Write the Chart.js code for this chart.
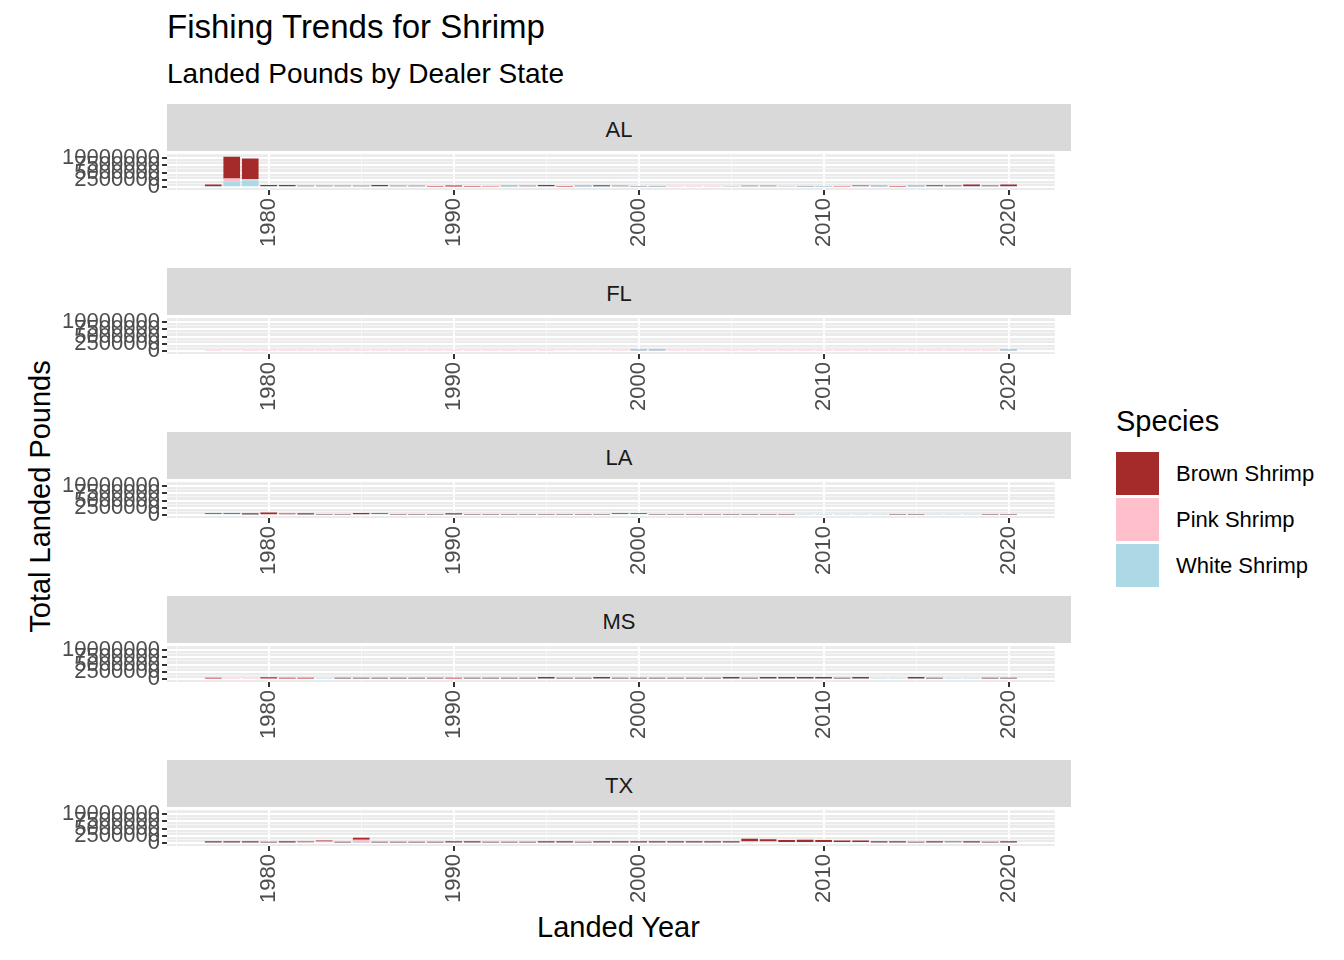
<!DOCTYPE html>
<html>
<head>
<meta charset="utf-8">
<script src="https://cdn.jsdelivr.net/npm/chart.js@4"></script>
<style>
body { margin:0; width:1344px; height:960px; background:#fff; font-family:Arial, "Liberation Sans", sans-serif; position:relative; overflow:hidden; }
.t { position:absolute; color:#000; white-space:nowrap; }
.strip { position:absolute; left:167px; width:904px; height:47px; background:#D9D9D9; color:#1A1A1A; font-size:22px; text-align:center; line-height:52px; }
.panel { position:absolute; left:0; width:1075px; height:117px; }
.key { position:absolute; left:1116px; width:43px; height:43px; }
.klab { position:absolute; left:1176px; font-size:22px; color:#000; }
</style>
</head>
<body>
<div class="t" style="left:167px;top:8px;font-size:33px;">Fishing Trends for Shrimp</div>
<div class="t" style="left:167px;top:58px;font-size:28px;">Landed Pounds by Dealer State</div>
<div class="t" style="left:537px;top:911px;font-size:29px;">Landed Year</div>
<div class="t" style="left:-96px;top:480px;font-size:29px;transform:rotate(-90deg);">Total Landed Pounds</div>
<div class="t" style="left:1116px;top:405px;font-size:29px;">Species</div>
<div class="key" style="top:452px;background:#A52A2A;"></div>
<div class="key" style="top:498px;background:#FFC0CB;"></div>
<div class="key" style="top:544px;background:#ADD8E6;"></div>
<div class="klab" style="top:461px;">Brown Shrimp</div>
<div class="klab" style="top:507px;">Pink Shrimp</div>
<div class="klab" style="top:553px;">White Shrimp</div>
<div id="wrap"></div>
<script>
const years = [];
for (let y = 1977; y <= 2020; y++) years.push(y);
// axis range padded two years each side, like the reference
const axisYears = [1975, 1976, ...years, 2021, 2022];
const states = ['AL', 'FL', 'LA', 'MS', 'TX'];
const speciesNames = ['White Shrimp', 'Pink Shrimp', 'Brown Shrimp'];
const speciesColors = ['#ADD8E6', '#FFC0CB', '#A52A2A'];
const yTicks = [0, 2500000, 5000000, 7500000, 10000000];

// values in millions of pounds, 1977..2020
const alBrown = [0.6,7.4,7.0,0.5,0.5,0.2,0.2,0.2,0.2,0.5,0.2,0.2,0.2,0.4,0.2,0.1,0.2,0.2,0.5,0.2,0.2,0.5,0.2,0.2,0.2,0,0,0,0,0.2,0.2,0,0.2,0,0.2,0.2,0.2,0.2,0.2,0.4,0.3,0.6,0.3,0.6];
const alPink  = [0.1,1.0,0.4,0.1,0.1,0.1,0.1,0.1,0.1,0.1,0.1,0.1,0.2,0.2,0.2,0.2,0.2,0.1,0.1,0.2,0.2,0.1,0.1,0.1,0.1,0.2,0.2,0.2,0.1,0.1,0.1,0.1,0.1,0.2,0.1,0.2,0.2,0.2,0.2,0.1,0.1,0.1,0.1,0.1];
const alWhite = [0.2,2.0,2.4,0.2,0.2,0.2,0.2,0.2,0.2,0.2,0.2,0.2,0,0,0,0,0.1,0.2,0.2,0,0.1,0.1,0.2,0.1,0.1,0,0,0,0.2,0.2,0.2,0.2,0.1,0.1,0,0.2,0.1,0,0.1,0.2,0.2,0.2,0.2,0.2];
const flBrown = [0,0,0,0,0,0,0,0,0,0,0,0,0,0,0,0,0,0,0,0,0,0,0,0.2,0.2,0,0,0,0,0,0,0,0,0,0,0,0,0,0,0,0,0,0,0.2];
const flPink  = [0.2,0.4,0.2,0.2,0.2,0.2,0.2,0.2,0.2,0.2,0.2,0.2,0.2,0.2,0.2,0.2,0.2,0.2,0.2,0.4,0.4,0.4,0.2,0.2,0.2,0.2,0.2,0.2,0.2,0.2,0.2,0.2,0.2,0.2,0.2,0.2,0.2,0.2,0.2,0.2,0.2,0.2,0.2,0.2];
const flWhite = [0,0,0,0,0,0,0,0,0,0,0,0,0,0,0,0,0,0,0,0,0,0,0,0.1,0.1,0,0,0,0,0,0,0,0,0,0,0,0,0,0,0,0,0,0,0.1];
const laBrown = [0.3,0.3,0.5,0.6,0.3,0.5,0.2,0.2,0.5,0.3,0.2,0.2,0.2,0.5,0.2,0.2,0.2,0.2,0.2,0.2,0.2,0.2,0.3,0.3,0.2,0.2,0.2,0.2,0.2,0.2,0.2,0.2,0,0,0,0,0,0.2,0.2,0,0,0,0.2,0.2];
const laPink  = [0,0,0,0,0,0,0,0,0,0,0,0,0,0,0,0,0,0,0,0,0,0,0,0,0,0,0,0,0,0,0,0,0,0,0,0,0,0,0,0,0,0,0,0];
const laWhite = [0.4,0.4,0.2,0.3,0.3,0.2,0.2,0.2,0.3,0.4,0.2,0.2,0.2,0.2,0.2,0.2,0.2,0.2,0.2,0.2,0.2,0.2,0.4,0.4,0.2,0.2,0.2,0.2,0.2,0.2,0.2,0.2,0.2,0.2,0.2,0.2,0.2,0.2,0.2,0.2,0.2,0.2,0.2,0.2];
const msBrown = [0.3,0,0,0.5,0.3,0.3,0,0.3,0.3,0.3,0.3,0.3,0.3,0.3,0.3,0.3,0.3,0.3,0.6,0.3,0.3,0.6,0.3,0.3,0.3,0.3,0.3,0.3,0.6,0.3,0.6,0.6,0.6,0.6,0.3,0.6,0,0,0.6,0.3,0,0,0.3,0.3];
const msPink  = [0.2,0.2,0.2,0.2,0.2,0.2,0,0,0,0,0,0,0,0.2,0,0,0,0,0,0,0,0,0,0,0,0,0,0,0,0,0,0,0,0,0,0,0,0,0,0,0,0,0,0];
const msWhite = [0,0,0,0,0,0,0.2,0.2,0.2,0.2,0.2,0.2,0.2,0,0.2,0.2,0.2,0.2,0.2,0.2,0.2,0.2,0.2,0.2,0.2,0.2,0.2,0.2,0.2,0.2,0.2,0.2,0.2,0.2,0.2,0.2,0.2,0.2,0.2,0.2,0.2,0.2,0.2,0.2];
const txBrown = [0.5,0.5,0.5,0.3,0.5,0.3,0.3,0.3,0.7,0.3,0.3,0.3,0.3,0.5,0.5,0.3,0.3,0.3,0.5,0.5,0.3,0.5,0.5,0.5,0.5,0.5,0.5,0.5,0.5,0.8,0.7,0.7,0.8,0.7,0.5,0.5,0.5,0.5,0.3,0.5,0.3,0.5,0.3,0.5];
const txPink  = [0,0,0,0,0,0,0.3,0,1.0,0,0,0,0,0,0,0,0,0,0,0,0,0,0,0,0,0,0,0,0,0,0,0,0,0,0,0,0,0,0,0,0.1,0,0,0];
const txWhite = [0.2,0.2,0.2,0.2,0.2,0.3,0.3,0.2,0.2,0.2,0.2,0.2,0.2,0.2,0.2,0.2,0.2,0.2,0.2,0.2,0.2,0.2,0.2,0.2,0.2,0.2,0.2,0.2,0.2,0.7,0.7,0.4,0.4,0.4,0.4,0.4,0.2,0.2,0.2,0.2,0.2,0.2,0.2,0.2];

const stateData = {
    AL: [alWhite, alPink, alBrown],
    FL: [flWhite, flPink, flBrown],
    LA: [laWhite, laPink, laBrown],
    MS: [msWhite, msPink, msBrown],
    TX: [txWhite, txPink, txBrown]
};

const panelBg = {
    id: 'panelBg',
    beforeDraw(chart) {
        const a = chart.chartArea;
        chart.ctx.save();
        chart.ctx.fillStyle = '#EBEBEB';
        chart.ctx.fillRect(a.left, a.top, a.right - a.left, a.bottom - a.top);
        chart.ctx.restore();
    }
};

const wrap = document.getElementById('wrap');
states.forEach((st, i) => {
    const top = 104 + i * 164;
    const strip = document.createElement('div');
    strip.className = 'strip';
    strip.style.top = top + 'px';
    strip.textContent = st;
    document.body.appendChild(strip);

    const box = document.createElement('div');
    box.className = 'panel';
    box.style.top = (top + 47 - 12) + 'px';
    const canvas = document.createElement('canvas');
    box.appendChild(canvas);
    wrap.appendChild(box);

    new Chart(canvas.getContext('2d'), {
        type: 'bar',
        data: {
            labels: axisYears,
            datasets: stateData[st].map((vals, k) => ({
                label: speciesNames[k],
                data: [null, null, ...vals.map(v => v * 1000000), null, null],
                backgroundColor: speciesColors[k],
                barPercentage: 0.9,
                categoryPercentage: 1.0
            }))
        },
        options: {
            responsive: true,
            maintainAspectRatio: false,
            animation: false,
            layout: { padding: { top: 12, right: 4, left: 0, bottom: 0 } },
            plugins: { legend: { display: false }, tooltip: { enabled: false } },
            scales: {
                x: {
                    stacked: true,
                    offset: true,
                    afterFit: s => { s.height = 66; },
                    grid: {
                        offset: false,
                        color: c => {
                            const y = axisYears[c.index];
                            if (y % 10 === 0) return '#FFFFFF';
                            if (y % 5 === 0) return '#F7F7F7';
                            return 'rgba(0,0,0,0)';
                        },
                        lineWidth: c => (axisYears[c.index] % 10 === 0 ? 2 : 1),
                        tickColor: c => (axisYears[c.index] % 10 === 0 ? '#333333' : 'rgba(0,0,0,0)'),
                        tickLength: 5
                    },
                    border: { display: false },
                    ticks: {
                        autoSkip: false,
                        minRotation: 90,
                        maxRotation: 90,
                        color: '#4D4D4D',
                        font: { size: 22, family: 'Arial' },
                        callback: (v, idx) => (axisYears[idx] % 10 === 0 ? String(axisYears[idx]) : '')
                    }
                },
                y: {
                    stacked: true,
                    min: -950000,
                    max: 11300000,
                    afterBuildTicks: s => {
                        const t = [];
                        yTicks.forEach((v, k) => {
                            t.push({ value: v, major: true });
                            if (k < yTicks.length - 1) t.push({ value: v + 1250000, major: false });
                        });
                        s.ticks = t;
                    },
                    afterFit: s => { s.width = 167; },
                    grid: {
                        color: c => (c.tick && c.tick.major ? '#FFFFFF' : '#F5F5F5'),
                        lineWidth: c => (c.tick && c.tick.major ? 2 : 1),
                        tickColor: c => (c.tick && c.tick.major ? '#333333' : 'rgba(0,0,0,0)'),
                        tickLength: 5
                    },
                    border: { display: false },
                    ticks: {
                        autoSkip: false,
                        color: '#4D4D4D',
                        font: { size: 22, family: 'Arial' },
                        padding: 2,
                        callback: function (v) { return yTicks.includes(v) ? String(v) : ''; }
                    }
                }
            }
        },
        plugins: [panelBg]
    });
});
</script>
</body>
</html>
